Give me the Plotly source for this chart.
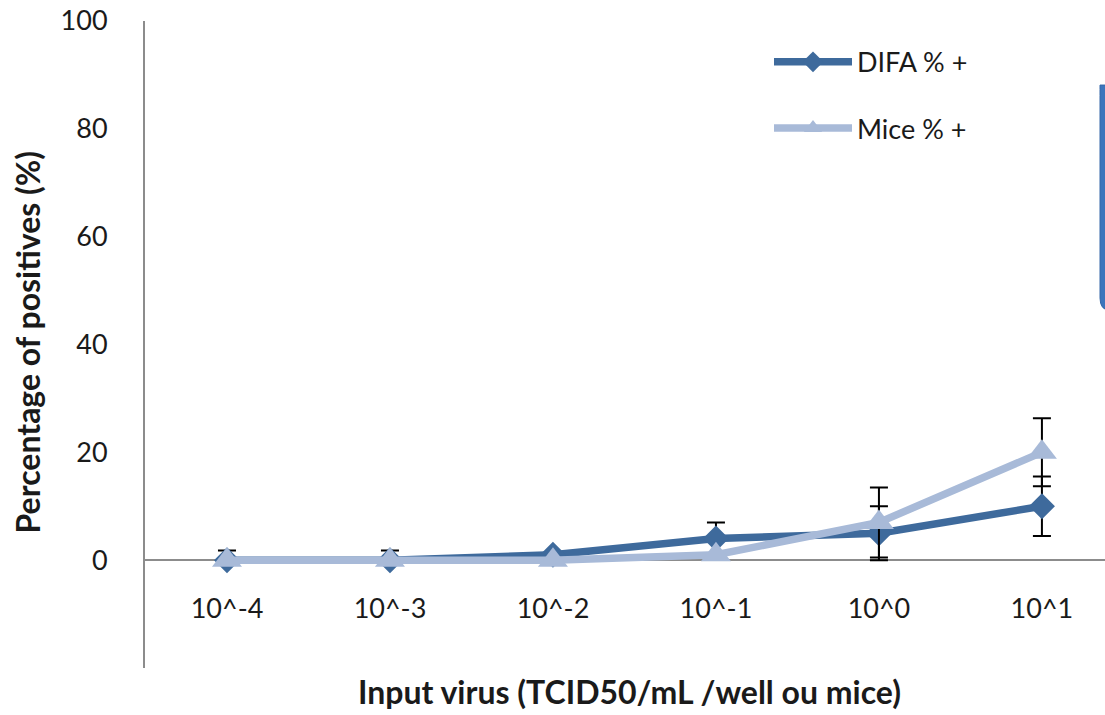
import plotly.graph_objects as go

# Input dose categories and percentage of positives per method
doses = ["10^-4", "10^-3", "10^-2", "10^-1", "10^0", "10^1"]
difa_pct = [0, 0, 1, 4, 5, 10]
difa_err_plus = [1.8, 1.8, 0, 3, 5, 5.5]
difa_err_minus = [0, 0, 0, 3, 5, 5.5]
mice_pct = [0, 0, 0, 1, 7, 20]
mice_err = [0, 0, 0, 0, 6.5, 6.3]
y_ticks = [0, 20, 40, 60, 80, 100]

DARK = "#3E6A9C"
LIGHT = "#A8BAD8"
AXIS = "#8C8C8C"
FONT = "Lato"
TEXT = "#1A1A1A"

fig = go.Figure()
fig.add_trace(go.Scatter(
    x=doses, y=difa_pct, name="DIFA % +", legendgroup="a",
    mode="lines+markers",
    line=dict(color=DARK, width=7.5),
    marker=dict(symbol="diamond", size=20, color=DARK),
    error_y=dict(type="data", symmetric=False, array=difa_err_plus,
                 arrayminus=difa_err_minus, color="black", thickness=2, width=9),
))
fig.add_trace(go.Scatter(
    x=doses, y=mice_pct, name="Mice % +", legendgroup="b",
    mode="lines+markers",
    line=dict(color=LIGHT, width=7.5),
    marker=dict(symbol="triangle-up", size=26, color=LIGHT),
    error_y=dict(type="data", array=mice_err, color="black", thickness=2, width=9),
))

# partially visible callout box at the right edge
fig.add_shape(type="path", xref="paper", yref="paper",
              path="M 1.01,0.901 L 0.9948,0.901 Q 0.9948,0.895 0.9948,0.885 "
                   "L 0.9948,0.572 Q 0.9948,0.553 1.005,0.553 L 1.01,0.553 Z",
              line=dict(color="#3467A8", width=1), fillcolor="#3C75BC", layer="above")

fig.update_layout(
    width=1105, height=715, autosize=False,
    margin=dict(l=145, r=0, t=21, b=47),
    paper_bgcolor="white", plot_bgcolor="white",
    font=dict(family=FONT, color=TEXT),
    showlegend=True,
    legend=dict(x=0.65, y=0.974, xanchor="left", yanchor="top",
                font=dict(family=FONT, size=27, color=TEXT),
                itemwidth=78, tracegroupgap=28, bgcolor="rgba(0,0,0,0)"),
    xaxis=dict(type="category", categoryorder="array", categoryarray=doses,
               range=[-0.503, 5.387], anchor="free", position=20 / 120,
               showline=True, linecolor=AXIS, linewidth=2, showgrid=False,
               zeroline=False, ticks="", ticklabelstandoff=24,
               tickfont=dict(family=FONT, size=27, color=TEXT),
               layer="below traces"),
    yaxis=dict(range=[-20, 100], tickvals=y_ticks, showline=True,
               linecolor=AXIS, linewidth=2, showgrid=False, zeroline=False,
               ticks="", ticklabelstandoff=30,
               tickfont=dict(family=FONT, size=27, color=TEXT),
               layer="below traces"),
    annotations=[
        dict(text="<b>Input virus (TCID50/mL /well ou mice)</b>", xref="paper", yref="paper",
             x=0.505, y=-0.037, xanchor="center", yanchor="middle", showarrow=False,
             font=dict(family=FONT, size=32, color=TEXT)),
        dict(text="<b>Percentage of positives (%)</b>", xref="paper", yref="paper",
             x=-0.122, y=0.503, xanchor="center", yanchor="middle", showarrow=False,
             textangle=-90, font=dict(family=FONT, size=32, color=TEXT)),
    ],
)

fig.write_html("out.html")
